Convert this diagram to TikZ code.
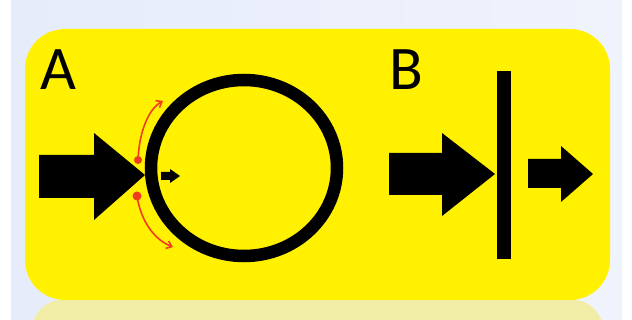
\documentclass[tikz,border=0pt]{standalone}
\usepackage{fontspec}
\setmainfont{Carlito}
\usetikzlibrary{arrows.meta}
\definecolor{bgblue}{HTML}{E6ECFA}
\definecolor{bgblue2}{HTML}{EFF3FC}
\definecolor{panel}{HTML}{FFF100}
\definecolor{refl}{HTML}{F1EDA6}
\definecolor{redarr}{HTML}{F03C1E}
\tikzset{
  blk/.style={fill=black, draw=none},
  label/.style={font=\fontsize{62}{62}\selectfont, inner sep=0pt, anchor=north west},
  redcurve/.style={draw=redarr, line width=1.6pt, -{Straight Barb[length=5pt,width=8pt]}},
  reddot/.style={fill=redarr, draw=none}
}
\begin{document}
\begin{tikzpicture}[x=1pt,y=-1pt]
\useasboundingbox (0,0) rectangle (632,320);
% background
\fill[white] (0,0) rectangle (632,320);
\shade[left color=bgblue, right color=bgblue2] (11,0) rectangle (622,320);
% reflection
\fill[refl] (32,320) -- (32,318) [rounded corners=30pt] -- (32,300) -- (603,300) [sharp corners] -- (603,320) -- cycle;
% panel
\fill[panel, rounded corners=40pt] (25,29) rectangle (610,300);
% labels
\node[label] (A) at (40,50) {A};
\node[label] (B) at (389,50) {B};
% circle
\draw[line width=12.5pt] (244,168) ellipse [x radius=93, y radius=88];
% big arrow A
\fill[blk] (39,155) -- (94,155) -- (94,133) -- (145,175) -- (94,220) -- (94,198) -- (39,198) -- cycle;
% small arrow inside circle
\fill[blk] (161,172) -- (170,172) -- (170,169) -- (180,176) -- (170,183) -- (170,180) -- (161,180) -- cycle;
% red arrows
\coordinate (u0) at (138,160);
\coordinate (u1) at (163,101);
\coordinate (l0) at (137,196);
\coordinate (l1) at (173,247);
\draw[redcurve] (u0) .. controls (139,135) and (147,110) .. (u1);
\draw[redcurve] (l0) .. controls (141,222) and (155,240) .. (l1);
\fill[reddot] (u0) circle (4);
\fill[reddot] (l0) circle (4.5);
% B arrow
\fill[blk] (389,153) -- (442,153) -- (442,133) -- (495,174) -- (442,216) -- (442,195) -- (389,195) -- cycle;
% bar
\fill[blk] (497,71) rectangle (511,259);
% right small arrow
\fill[blk] (528,159) -- (561,159) -- (561,146) -- (593,174) -- (561,202) -- (561,188) -- (528,188) -- cycle;
\end{tikzpicture}
\end{document}
